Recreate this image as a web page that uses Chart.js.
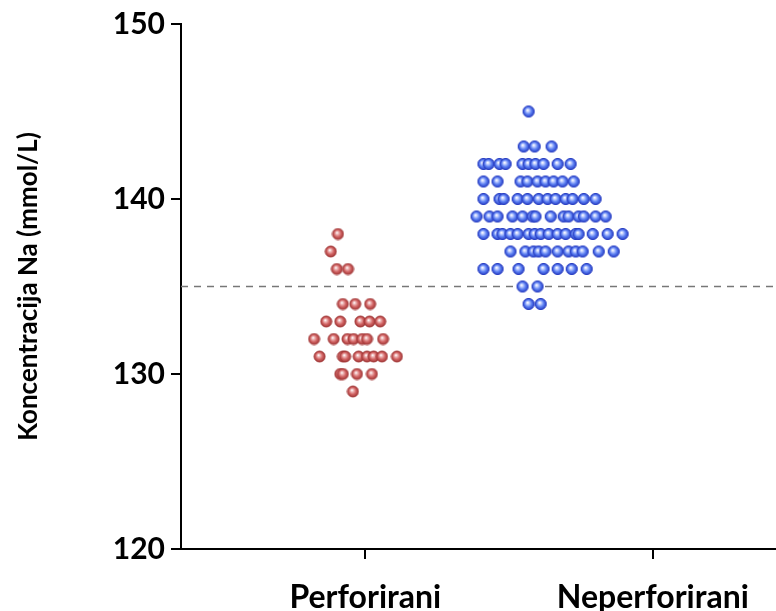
<!DOCTYPE html>
<html>
<head>
<meta charset="utf-8">
<script src="https://cdn.jsdelivr.net/npm/chart.js@4.4.1/dist/chart.umd.min.js"></script>
<style>
  html, body { margin: 0; padding: 0; background: #fff; overflow: hidden; }
  #outer { width: 776px; height: 611px; overflow: hidden; position: relative; }
  #wrap { width: 782px; height: 611px; position: absolute; left: 0; top: 0; }
</style>
</head>
<body>
<div id="outer"><div id="wrap"><canvas id="c"></canvas></div></div>
<script>
// ---- data ----
const categories = ['Perforirani', 'Neperforirani'];
const yTicks = [120, 130, 140, 150];
const referenceValue = 135;

const perforiraniValues = [
  138, 137, 136, 136,
  134, 134, 134,
  133, 133, 133, 133, 133,
  132, 132, 132, 132, 132, 132, 132,
  131, 131, 131, 131, 131, 131, 131, 131,
  130, 130, 130, 130,
  129
];
// horizontal scatter of each point around its category (category units)
const perforiraniJitter = [
  -0.095, -0.120, -0.099, -0.060,
  -0.078, -0.035, 0.017,
  -0.136, -0.087, -0.017, 0.015, 0.052,
  -0.178, -0.110, -0.062, -0.041, -0.011, 0.006, 0.062,
  -0.159, -0.078, -0.070, -0.023, 0.006, 0.029, 0.058, 0.110,
  -0.087, -0.078, -0.029, 0.023,
  -0.043
];

const neperforiraniValues = [
  145,
  143, 143, 143,
  142, 142, 142, 142, 142, 142, 142, 142, 142, 142,
  141, 141, 141, 141, 141, 141, 141, 141, 141,
  140, 140, 140, 140, 140, 140, 140, 140, 140, 140, 140, 140,
  139, 139, 139, 139, 139, 139, 139, 139, 139, 139, 139, 139, 139, 139,
  138, 138, 138, 138, 138, 138, 138, 138, 138, 138, 138, 138, 138, 138, 138, 138,
  137, 137, 137, 137, 137, 137, 137, 137, 137, 137, 137,
  136, 136, 136, 136, 136, 136, 136,
  135, 135,
  134, 134
];
const neperforiraniJitter = [
  -0.432,
  -0.449, -0.411, -0.352,
  -0.589, -0.571, -0.533, -0.512, -0.453, -0.432, -0.408, -0.380, -0.331, -0.286,
  -0.589, -0.540, -0.460, -0.436, -0.401, -0.373, -0.345, -0.314, -0.275,
  -0.589, -0.533, -0.519, -0.470, -0.436, -0.397, -0.366, -0.338, -0.303, -0.279, -0.240, -0.199,
  -0.613, -0.568, -0.540, -0.488, -0.453, -0.418, -0.408, -0.355, -0.310, -0.293, -0.258, -0.240, -0.199, -0.164,
  -0.589, -0.540, -0.523, -0.495, -0.470, -0.432, -0.411, -0.390, -0.362, -0.331, -0.303, -0.268, -0.258, -0.209, -0.157, -0.105,
  -0.495, -0.443, -0.415, -0.397, -0.373, -0.331, -0.293, -0.268, -0.244, -0.188, -0.136,
  -0.589, -0.540, -0.467, -0.380, -0.331, -0.282, -0.230,
  -0.453, -0.401,
  -0.432, -0.390
];

// ---- helpers ----
function sphere(base, light, edge, r) {
  const s = Math.ceil(r * 2 + 2);
  const cv = document.createElement('canvas');
  cv.width = s; cv.height = s;
  const g = cv.getContext('2d');
  const c = s / 2;
  const grad = g.createRadialGradient(c - r * 0.2, c - r * 0.25, r * 0.05, c, c, r);
  grad.addColorStop(0, '#ffffff');
  grad.addColorStop(0.2, light);
  grad.addColorStop(0.6, base);
  grad.addColorStop(1, edge);
  g.beginPath();
  g.arc(c, c, r, 0, Math.PI * 2);
  g.fillStyle = grad;
  g.fill();
  g.lineWidth = 1;
  g.strokeStyle = edge;
  g.stroke();
  return cv;
}
const redDot = sphere('#d26464', '#f0c0c0', '#a33838', 5.5);
const blueDot = sphere('#5a7ef2', '#c8d4ff', '#2a40c4', 5.6);

const toPoints = (vals, jit, idx) => vals.map((v, i) => ({ x: idx + 1 + jit[i], y: v }));

const xMin = 0.359, xMax = 2.432;

new Chart(document.getElementById('c'), {
  type: 'scatter',
  data: {
    datasets: [
      {
        label: categories[0],
        data: toPoints(perforiraniValues, perforiraniJitter, 0),
        pointStyle: redDot,
        order: 1
      },
      {
        label: categories[1],
        data: toPoints(neperforiraniValues, neperforiraniJitter, 1),
        pointStyle: blueDot,
        order: 1
      },
      {
        type: 'line',
        label: 'ref',
        data: [{ x: xMin, y: referenceValue }, { x: xMax, y: referenceValue }],
        borderColor: '#777',
        borderWidth: 1.6,
        borderDash: [7, 6],
        pointRadius: 0,
        fill: false,
        order: 3
      }
    ]
  },
  options: {
    responsive: true,
    maintainAspectRatio: false,
    animation: false,
    layout: { padding: { top: 8, right: 0, left: 0, bottom: 0 } },
    plugins: { legend: { display: false }, tooltip: { enabled: false } },
    scales: {
      x: {
        type: 'linear',
        min: xMin,
        max: xMax,
        afterBuildTicks: (s) => { s.ticks = categories.map((_, i) => ({ value: i + 1 })); },
        afterFit: (s) => { s.height = 62; },
        ticks: {
          callback: (v) => categories[Math.round(v) - 1] || '',
          color: '#000',
          font: { family: 'Lato', weight: 'bold', size: 32 },
          padding: 19,
          maxRotation: 0,
          autoSkip: false
        },
        grid: { drawOnChartArea: false, drawTicks: true, tickLength: 10, color: '#000', lineWidth: 2 },
        border: { display: true, color: '#000', width: 2 }
      },
      y: {
        min: 120,
        max: 150,
        afterBuildTicks: (s) => { s.ticks = yTicks.map(v => ({ value: v })); },
        afterFit: (s) => { s.width = 181; },
        ticks: {
          color: '#000',
          font: { family: 'Lato', weight: 'bold', size: 30 },
          padding: 6
        },
        grid: { drawOnChartArea: false, drawTicks: true, tickLength: 10, color: '#000', lineWidth: 2 },
        border: { display: true, color: '#000', width: 2 },
        title: {
          display: true,
          text: 'Koncentracija Na (mmol/L)',
          color: '#000',
          font: { family: 'Lato', weight: 'bold', size: 26 },
          padding: { top: 13, bottom: 0 }
        }
      }
    }
  }
});
</script>
</body>
</html>
